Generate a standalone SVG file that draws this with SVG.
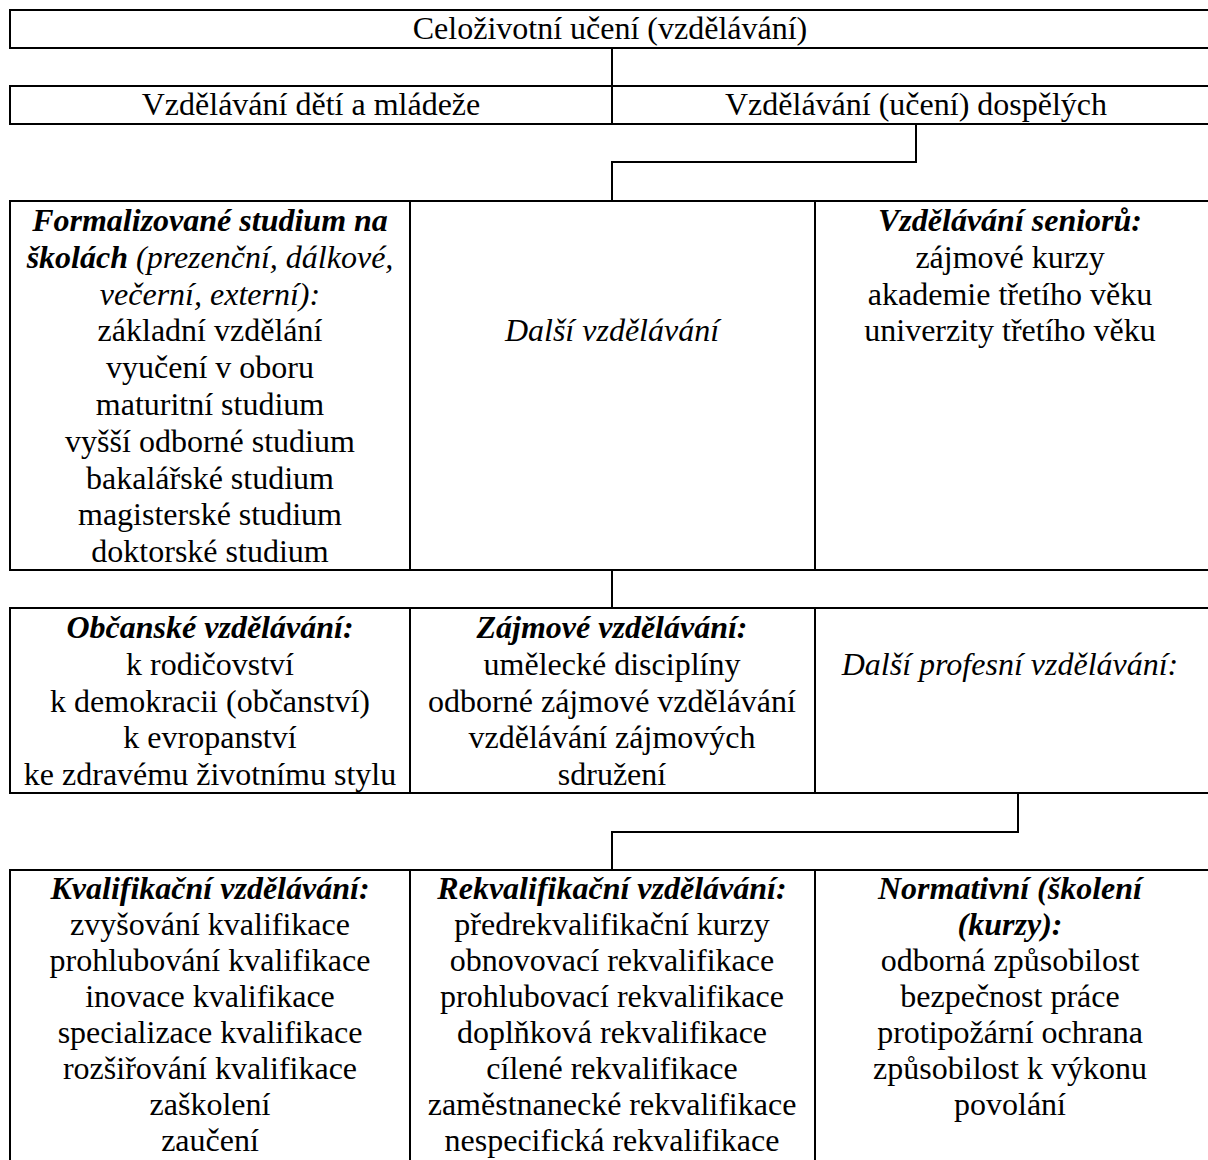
<svg xmlns="http://www.w3.org/2000/svg" width="1208" height="1160" viewBox="0 0 1208 1160">
<style>
.b{fill:#fff;stroke:#000;stroke-width:2}
.c{fill:none;stroke:#000;stroke-width:2}
text{font-family:"Liberation Serif","Times New Roman",serif;font-size:32px;fill:#000;text-anchor:middle}
.bi{font-weight:bold;font-style:italic}
.i{font-style:italic}
</style>
<rect width="1208" height="1160" fill="#fff"/>
<g id="connectors">
<path class="c" d="M612 48V86"/>
<path class="c" d="M916 124V162H612V201"/>
<path class="c" d="M612 570V608"/>
<path class="c" d="M1018 793V832H612V870"/>
</g>
<g id="n-celozivotni">
<rect class="b" x="10" y="10" width="1199" height="38"/>
<text x="610" y="39">Celoživotní učení (vzdělávání)</text>
</g>
<g id="n-deti">
<rect class="b" x="10" y="86" width="602" height="38"/>
<text x="311" y="115">Vzdělávání dětí a mládeže</text>
</g>
<g id="n-dospeli">
<rect class="b" x="612" y="86" width="597" height="38"/>
<text x="916" y="115">Vzdělávání (učení) dospělých</text>
</g>
<g id="n-formalizovane">
<rect class="b" x="10" y="201" width="400" height="369"/>
<text x="210" y="231" class="bi">Formalizované studium na</text>
<text x="210" y="268"><tspan class="bi">školách</tspan><tspan class="i"> (prezenční, dálkové,</tspan></text>
<text x="210" y="305" class="i">večerní, externí):</text>
<text x="210" y="341">základní vzdělání</text>
<text x="210" y="378">vyučení v oboru</text>
<text x="210" y="415">maturitní studium</text>
<text x="210" y="452">vyšší odborné studium</text>
<text x="210" y="489">bakalářské studium</text>
<text x="210" y="525">magisterské studium</text>
<text x="210" y="562">doktorské studium</text>
</g>
<g id="n-dalsi">
<rect class="b" x="410" y="201" width="405" height="369"/>
<text x="612" y="341" class="i">Další vzdělávání</text>
</g>
<g id="n-seniori">
<rect class="b" x="815" y="201" width="394" height="369"/>
<text x="1010" y="231" class="bi">Vzdělávání seniorů:</text>
<text x="1010" y="268">zájmové kurzy</text>
<text x="1010" y="305">akademie třetího věku</text>
<text x="1010" y="341">univerzity třetího věku</text>
</g>
<g id="n-obcanske">
<rect class="b" x="10" y="608" width="400" height="185"/>
<text x="210" y="638" class="bi">Občanské vzdělávání:</text>
<text x="210" y="675">k rodičovství</text>
<text x="210" y="712">k demokracii (občanství)</text>
<text x="210" y="748">k evropanství</text>
<text x="210" y="785">ke zdravému životnímu stylu</text>
</g>
<g id="n-zajmove">
<rect class="b" x="410" y="608" width="405" height="185"/>
<text x="612" y="638" class="bi">Zájmové vzdělávání:</text>
<text x="612" y="675">umělecké disciplíny</text>
<text x="612" y="712">odborné zájmové vzdělávání</text>
<text x="612" y="748">vzdělávání zájmových</text>
<text x="612" y="785">sdružení</text>
</g>
<g id="n-profesni">
<rect class="b" x="815" y="608" width="394" height="185"/>
<text x="1010" y="675" class="i">Další profesní vzdělávání:</text>
</g>
<g id="n-kvalifikacni">
<rect class="b" x="10" y="870" width="400" height="310"/>
<text x="210" y="899" class="bi">Kvalifikační vzdělávání:</text>
<text x="210" y="935">zvyšování kvalifikace</text>
<text x="210" y="971">prohlubování kvalifikace</text>
<text x="210" y="1007">inovace kvalifikace</text>
<text x="210" y="1043">specializace kvalifikace</text>
<text x="210" y="1079">rozšiřování kvalifikace</text>
<text x="210" y="1115">zaškolení</text>
<text x="210" y="1151">zaučení</text>
</g>
<g id="n-rekvalifikacni">
<rect class="b" x="410" y="870" width="405" height="310"/>
<text x="612" y="899" class="bi">Rekvalifikační vzdělávání:</text>
<text x="612" y="935">předrekvalifikační kurzy</text>
<text x="612" y="971">obnovovací rekvalifikace</text>
<text x="612" y="1007">prohlubovací rekvalifikace</text>
<text x="612" y="1043">doplňková rekvalifikace</text>
<text x="612" y="1079">cílené rekvalifikace</text>
<text x="612" y="1115">zaměstnanecké rekvalifikace</text>
<text x="612" y="1151">nespecifická rekvalifikace</text>
</g>
<g id="n-normativni">
<rect class="b" x="815" y="870" width="394" height="310"/>
<text x="1010" y="899" class="bi">Normativní (školení</text>
<text x="1010" y="935" class="bi">(kurzy):</text>
<text x="1010" y="971">odborná způsobilost</text>
<text x="1010" y="1007">bezpečnost práce</text>
<text x="1010" y="1043">protipožární ochrana</text>
<text x="1010" y="1079">způsobilost k výkonu</text>
<text x="1010" y="1115">povolání</text>
</g>
</svg>
